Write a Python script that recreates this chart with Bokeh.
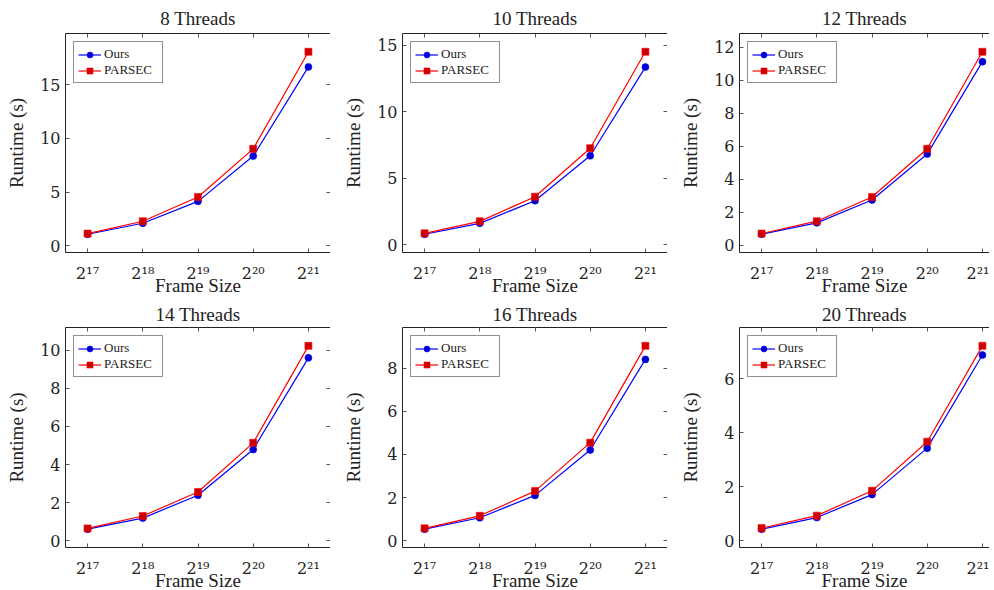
from bokeh.plotting import figure
from bokeh.layouts import column, row
from bokeh.models import LinearAxis, FixedTicker, SingleIntervalTicker, Range1d, Spacer
from bokeh.embed import file_html
from bokeh.resources import INLINE

# ---------------- data ----------------
frame_exponents = [17, 18, 19, 20, 21]
frame_tick_labels = ["2¹⁷", "2¹⁸", "2¹⁹", "2²⁰", "2²¹"]
panel_titles = ["8 Threads", "10 Threads", "12 Threads", "14 Threads", "16 Threads", "20 Threads"]

ours_8 = [1.08, 2.10, 4.14, 8.35, 16.64]
parsec_8 = [1.14, 2.29, 4.55, 9.02, 18.05]
ours_10 = [0.80, 1.62, 3.32, 6.69, 13.35]
parsec_10 = [0.87, 1.77, 3.62, 7.26, 14.50]
ours_12 = [0.68, 1.37, 2.75, 5.53, 11.12]
parsec_12 = [0.72, 1.47, 2.93, 5.85, 11.72]
ours_14 = [0.61, 1.19, 2.39, 4.79, 9.60]
parsec_14 = [0.65, 1.30, 2.56, 5.14, 10.23]
ours_16 = [0.53, 1.06, 2.10, 4.21, 8.42]
parsec_16 = [0.57, 1.15, 2.30, 4.55, 9.05]
ours_20 = [0.42, 0.85, 1.70, 3.42, 6.87]
parsec_20 = [0.46, 0.92, 1.84, 3.66, 7.21]

y_tick_steps = [5, 5, 2, 2, 2, 2]
series_names = ["Ours", "PARSEC"]

FONT = "Liberation Serif"
TICK_FONT = "DejaVu Serif"
TEXT_COLOR = "#222222"
TICK_COLOR = "#555555"


def style_axis(ax, show_labels=True):
    ax.major_tick_in = 4
    ax.major_tick_out = 0
    ax.minor_tick_line_color = None
    ax.major_tick_line_color = TICK_COLOR
    ax.axis_line_color = TEXT_COLOR
    ax.axis_line_width = 1
    if show_labels:
        ax.major_label_text_font = TICK_FONT
        ax.major_label_text_font_size = "16px"
        ax.major_label_text_color = TEXT_COLOR
        ax.axis_label_text_font = FONT
        ax.axis_label_text_font_size = "19px"
        ax.axis_label_text_font_style = "normal"
        ax.axis_label_text_color = TEXT_COLOR
    else:
        ax.major_label_text_color = None
        ax.major_label_text_font_size = "1px"
        ax.major_label_standoff = 0
        ax.axis_label = None


def make_panel(title, ours, parsec, step, frame_w, frame_h, clipped, title_standoff):
    lo = min(ours + parsec)
    hi = max(ours + parsec)
    ypad = 0.1 * (hi - lo)
    xlo = min(frame_exponents)
    xhi = max(frame_exponents)
    xpad = 0.1 * (xhi - xlo)
    full_w = 265
    x_start = xlo - xpad
    x_end = xhi + xpad
    if clipped:
        x_end = x_start + (x_end - x_start) * frame_w / full_w

    p = figure(frame_width=frame_w, frame_height=frame_h,
               x_range=Range1d(x_start, x_end), y_range=Range1d(lo - ypad, hi + ypad),
               output_backend="svg", toolbar_location=None,
               min_border=0,
               background_fill_color="white", border_fill_color="white")
    p.outline_line_color = None
    p.grid.visible = False

    p.title.text = title
    p.title.align = "center"
    p.title.text_font = FONT
    p.title.text_font_size = "19px"
    p.title.text_font_style = "normal"
    p.title.text_color = TEXT_COLOR
    p.title.standoff = title_standoff

    xt = FixedTicker(ticks=frame_exponents)
    yt = SingleIntervalTicker(interval=step, num_minor_ticks=0)
    overrides = {e: lab for e, lab in zip(frame_exponents, frame_tick_labels)}

    xa = p.xaxis[0]
    xa.ticker = xt
    xa.major_label_overrides = overrides
    xa.axis_label = "Frame Size"
    style_axis(xa)
    xa.major_label_standoff = 11
    xa.axis_label_standoff = -11

    ya = p.yaxis[0]
    ya.ticker = yt
    ya.axis_label = "Runtime (s)"
    style_axis(ya)
    ya.major_label_standoff = 5
    ya.axis_label_standoff = 10 if hi >= 10 else 20

    top = LinearAxis(ticker=xt)
    style_axis(top, show_labels=False)
    p.add_layout(top, "above")
    if not clipped:
        right = LinearAxis(ticker=yt)
        style_axis(right, show_labels=False)
        p.add_layout(right, "right")

    p.line(frame_exponents, ours, line_color="#0000ff", line_width=1.2, legend_label=series_names[0])
    p.scatter(frame_exponents, ours, marker="circle", size=7, fill_color="#0000cc",
              line_color="#0000ff", line_width=0.6, legend_label=series_names[0])
    p.line(frame_exponents, parsec, line_color="#ff0000", line_width=1.2, legend_label=series_names[1])
    p.scatter(frame_exponents, parsec, marker="square", size=7, fill_color="#cc0000",
              line_color="#ff0000", line_width=0.6, legend_label=series_names[1])

    lg = p.legend[0]
    lg.location = "top_left"
    lg.margin = 8
    lg.padding = 4
    lg.spacing = 0
    lg.glyph_width = 23
    lg.glyph_height = 15
    lg.label_height = 15
    lg.label_width = 54
    lg.label_standoff = 3
    lg.label_text_font = FONT
    lg.label_text_font_size = "13px"
    lg.label_text_color = TEXT_COLOR
    lg.border_line_color = TEXT_COLOR
    lg.border_line_width = 1
    lg.background_fill_color = "white"
    lg.background_fill_alpha = 1.0
    return p


all_ours = [ours_8, ours_10, ours_12, ours_14, ours_16, ours_20]
all_parsec = [parsec_8, parsec_10, parsec_12, parsec_14, parsec_16, parsec_20]

frame_widths = [265, 265, 250]
clip_flags = [False, False, True]
frame_heights = [219, 220]
title_standoffs = [10, 6]
gap_before = [3, 10, 10]

rows = []
for r in range(2):
    items = []
    for c in range(3):
        i = r * 3 + c
        items.append(Spacer(width=gap_before[c], height=10))
        items.append(make_panel(panel_titles[i], all_ours[i], all_parsec[i], y_tick_steps[i],
                                frame_widths[c], frame_heights[r], clip_flags[c], title_standoffs[r]))
    rows.append(row(*items, spacing=0))

layout = column(rows[0], rows[1], spacing=0)

open("out.html", "w").write(file_html(layout, INLINE))
